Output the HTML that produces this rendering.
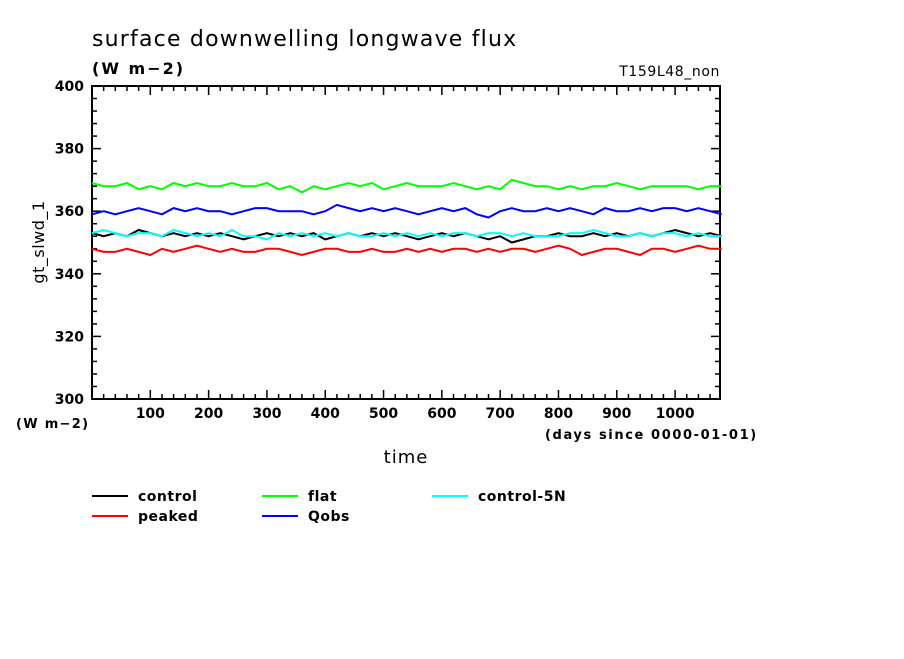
<!DOCTYPE html>
<html><head><meta charset="utf-8"><style>
body{margin:0;background:#fff;}
svg text{font-family:"DejaVu Sans","Liberation Sans",sans-serif;}
</style></head><body>
<svg id="chart" width="904" height="654" xmlns="http://www.w3.org/2000/svg">
<rect width="904" height="654" fill="#fff"/>
<text x="92" y="46" font-size="22" letter-spacing="1.2">surface downwelling longwave flux</text>
<text x="92" y="74" font-size="16" letter-spacing="2" font-weight="bold">(W m−2)</text>
<text x="720" y="76" font-size="14" text-anchor="end" letter-spacing="0.6">T159L48_non</text>
<text transform="translate(44,242) rotate(-90)" font-size="16" text-anchor="middle" letter-spacing="0.5">gt_slwd_1</text>
<text x="16" y="428" font-size="13" letter-spacing="1.3" font-weight="bold">(W m−2)</text>
<text x="406" y="463" font-size="18" text-anchor="middle" letter-spacing="1">time</text>
<text x="545" y="439" font-size="13" letter-spacing="1.6" font-weight="bold">(days since 0000-01-01)</text>
<g id="axes"></g>
<g id="series"></g>
<g id="legend"></g>
</svg>
<script>
const days=[0,20,40,60,80,100,120,140,160,180,200,220,240,260,280,300,320,340,360,380,400,420,440,460,480,500,520,540,560,580,600,620,640,660,680,700,720,740,760,780,800,820,840,860,880,900,920,940,960,980,1000,1020,1040,1060,1080];
const controlVals=[353,352,353,352,354,353,352,353,352,353,352,353,352,351,352,353,352,353,352,353,351,352,353,352,353,352,353,352,351,352,353,352,353,352,351,352,350,351,352,352,353,352,352,353,352,353,352,353,352,353,354,353,352,353,352];
const peakedVals=[348,347,347,348,347,346,348,347,348,349,348,347,348,347,347,348,348,347,346,347,348,348,347,347,348,347,347,348,347,348,347,348,348,347,348,347,348,348,347,348,349,348,346,347,348,348,347,346,348,348,347,348,349,348,348];
const flatVals=[369,368,368,369,367,368,367,369,368,369,368,368,369,368,368,369,367,368,366,368,367,368,369,368,369,367,368,369,368,368,368,369,368,367,368,367,370,369,368,368,367,368,367,368,368,369,368,367,368,368,368,368,367,368,368];
const qobsVals=[359,360,359,360,361,360,359,361,360,361,360,360,359,360,361,361,360,360,360,359,360,362,361,360,361,360,361,360,359,360,361,360,361,359,358,360,361,360,360,361,360,361,360,359,361,360,360,361,360,361,361,360,361,360,359];
const cyanVals=[353,354,353,352,353,353,352,354,353,352,353,352,354,352,352,351,353,352,353,352,353,352,353,352,352,353,352,353,352,353,352,353,353,352,353,353,352,353,352,352,352,353,353,354,353,352,352,353,352,353,353,352,353,352,352];
const xTicks=[100,200,300,400,500,600,700,800,900,1000];
const yTicks=[300,320,340,360,380,400];
const NS="http://www.w3.org/2000/svg";
const X0=92,X1=720,Y0=399,Y1=86;
const xmax=1077;
function xs(d){return X0+(X1-X0)*d/xmax;}
function ys(v){return Y0-(Y0-Y1)*(v-300)/100;}
function mk(tag,attrs,parent){const e=document.createElementNS(NS,tag);for(const k in attrs)e.setAttribute(k,attrs[k]);parent.appendChild(e);return e;}
const axes=document.getElementById('axes');
const frame=mk('rect',{x:X0,y:Y1,width:X1-X0,height:Y0-Y1,fill:'none',stroke:'#000','stroke-width':2},axes);


for(let d=20;d<xmax;d+=20){const L=(d%100===0)?9:5;
 mk('line',{x1:xs(d),x2:xs(d),y1:Y0,y2:Y0-L,stroke:'#000','stroke-width':1.5},axes);
 mk('line',{x1:xs(d),x2:xs(d),y1:Y1,y2:Y1+L,stroke:'#000','stroke-width':1.5},axes);}
for(let v=304;v<400;v+=4){const L=(v%20===0)?9:5;
 mk('line',{x1:X0,x2:X0+L,y1:ys(v),y2:ys(v),stroke:'#000','stroke-width':1.5},axes);
 mk('line',{x1:X1,x2:X1-L,y1:ys(v),y2:ys(v),stroke:'#000','stroke-width':1.5},axes);}
xTicks.forEach(t=>{const e=mk('text',{x:xs(t),y:418,'font-size':14,'text-anchor':'middle','font-weight':'bold'},axes);e.textContent=t;
 
 });
yTicks.forEach(t=>{const e=mk('text',{x:84,y:ys(t)+5,'font-size':14,'text-anchor':'end','font-weight':'bold'},axes);e.textContent=t;
 
 });
const sg=document.getElementById('series');
const series=[['control',controlVals,'#000'],['peaked',peakedVals,'#f00'],['flat',flatVals,'#0f0'],['qobs',qobsVals,'#00f'],['control-5n',cyanVals,'#0ff']];
series.forEach(s=>{const pts=days.map((d,i)=>xs(d).toFixed(1)+','+ys(s[1][i]).toFixed(1)).join(' ');
 const p=mk('polyline',{points:pts,fill:'none',stroke:s[2],'stroke-width':2},sg);
 
 });
const lg=document.getElementById('legend');
const leg=[['control','#000',92,496],['peaked','#f00',92,516],['flat','#0f0',262,496],['Qobs','#00f',262,516],['control-5N','#0ff',432,496]];
leg.forEach(l=>{const g=mk('g',{},lg);
 
 
 mk('line',{x1:l[2],x2:l[2]+36,y1:l[3],y2:l[3],stroke:l[1],'stroke-width':2},g);
 const t=mk('text',{x:l[2]+46,y:l[3]+5,'font-size':14,'font-weight':'bold','letter-spacing':0.5},g);t.textContent=l[0];});
</script>
</body></html>
